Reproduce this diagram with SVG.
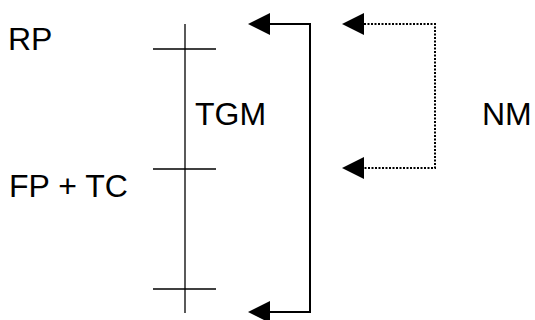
<svg xmlns="http://www.w3.org/2000/svg" width="535" height="320" viewBox="0 0 535 320">
  <style>
    .lbl { font-family: "Liberation Sans", Arial, sans-serif; font-size: 32px; fill: #000; }
    .axis { stroke: #000; stroke-width: 1.3; fill: none; }
    .solid { stroke: #000; stroke-width: 2; fill: none; }
    .dotted { stroke: #000; stroke-width: 2; fill: none; stroke-dasharray: 2 1.5; }
    .head { fill: #000; }
  </style>
  <rect width="535" height="320" fill="#fff"/>

  <g id="axis">
    <line class="axis" x1="185" y1="24" x2="185" y2="313"/>
  </g>
  <g id="tick-rp">
    <line class="axis" x1="153" y1="49" x2="216" y2="49"/>
  </g>
  <g id="tick-fp">
    <line class="axis" x1="153" y1="169" x2="216" y2="169"/>
  </g>
  <g id="tick-end">
    <line class="axis" x1="153" y1="289" x2="216" y2="289"/>
  </g>

  <g id="label-rp"><text class="lbl" x="8" y="50">RP</text></g>
  <g id="label-fptc"><text class="lbl" x="9" y="197">FP + TC</text></g>
  <g id="label-tgm"><text class="lbl" x="195" y="125">TGM</text></g>
  <g id="label-nm"><text class="lbl" x="482" y="125">NM</text></g>

  <g id="connectors">
    <!-- TGM bracket -->
    <polyline class="solid" points="268,24 310,24 310,312 268,312"/>
    <polygon class="head" points="248,24 270,13 270,35"/>
    <polygon class="head" points="248,312 270,301 270,323"/>
    <!-- NM bracket -->
    <polyline class="dotted" points="364,24 435,24 435,168 364,168"/>
    <polygon class="head" points="342,24 364,13 364,35"/>
    <polygon class="head" points="342,168 364,157 364,179"/>
  </g>
</svg>
